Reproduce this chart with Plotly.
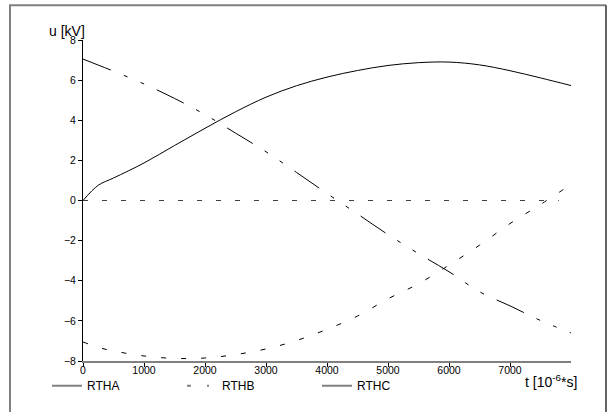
import plotly.graph_objects as go

# Time axis (in 10^-6 s) and the three phase voltages in kV
t = [0, 250, 500, 1000, 1500, 2000, 2500, 3000, 3500, 4000,
     4500, 5000, 5500, 6000, 6500, 7000, 7500, 8000]
u_rtha = [7.05, 6.75, 6.45, 5.81, 5.09, 4.28, 3.36, 2.43, 1.40, 0.35,
          -0.67, -1.70, -2.65, -3.55, -4.55, -5.25, -5.98, -6.60]
u_rthb = [-7.05, -7.32, -7.50, -7.75, -7.87, -7.85, -7.68, -7.40, -6.98, -6.42,
          -5.76, -4.90, -4.15, -3.22, -2.23, -1.15, -0.20, 0.80]
u_rthc = [0.0, 0.76, 1.12, 1.87, 2.74, 3.60, 4.42, 5.15, 5.72, 6.15,
          6.48, 6.73, 6.87, 6.90, 6.76, 6.47, 6.11, 5.73]

# Reference (zero) level line
t_zero = [0, 7800]
u_zero = [0.0, 0.0]

legend_names = ["RTHA", "RTHB", "RTHC"]
x_ticks = [0, 1000, 2000, 3000, 4000, 5000, 6000, 7000]
y_ticks = [-8, -6, -4, -2, 0, 2, 4, 6, 8]

FONT = "Arial, Liberation Sans, sans-serif"

fig = go.Figure()

fig.add_trace(go.Scatter(x=t, y=u_rtha, mode="lines", showlegend=False,
                         line=dict(color="black", width=1, shape="spline", smoothing=1.0,
                                   dash="30px,14px,4px,14px,4px,14px")))
fig.add_trace(go.Scatter(x=t, y=u_rthb, mode="lines", showlegend=False,
                         line=dict(color="black", width=1, shape="spline", smoothing=1.0,
                                   dash="5px,15px")))
fig.add_trace(go.Scatter(x=t, y=u_rthc, mode="lines", showlegend=False,
                         line=dict(color="black", width=1, shape="spline", smoothing=1.0)))
fig.add_trace(go.Scatter(x=t_zero, y=u_zero, mode="lines", showlegend=False,
                         line=dict(color="#404040", width=1, dash="5px,14px")))

# Legend entries (grey samples)
legend_dash = ["solid", "4px,16px,2px,10px", "solid"]
for name, dash in zip(legend_names, legend_dash):
    fig.add_trace(go.Scatter(x=[None], y=[None], mode="lines", name=name,
                             line=dict(color="#808080", width=2, dash=dash)))

L, R, T, B = 83, 38, 40, 48
W, H = 609, 412
pw, ph = W - L - R, H - T - B


def px_x(v):
    return (v - L) / pw


def px_y(v):
    return (H - B - v) / ph


shapes = [
    dict(type="line", xref="paper", yref="paper", x0=px_x(10), x1=px_x(10),
         y0=px_y(5), y1=px_y(430), line=dict(color="#808080", width=2)),
    dict(type="line", xref="paper", yref="paper", x0=px_x(9), x1=px_x(606),
         y0=px_y(5), y1=px_y(5), line=dict(color="#808080", width=2)),
    dict(type="line", xref="paper", yref="paper", x0=px_x(606), x1=px_x(606),
         y0=px_y(5), y1=px_y(430), line=dict(color="#303030", width=1.5)),
]

annotations = [
    dict(text="u [kV]", xref="paper", yref="paper", x=px_x(47), y=px_y(31),
         xanchor="left", yanchor="middle", showarrow=False,
         font=dict(family=FONT, size=14, color="black")),
    dict(text="t [10<sup>-6</sup>*s]", xref="paper", yref="paper", x=px_x(523), y=px_y(384),
         xanchor="left", yanchor="middle", showarrow=False,
         font=dict(family=FONT, size=14, color="black")),
]

fig.update_layout(
    width=W, height=H,
    margin=dict(l=L, r=R, t=T, b=B, pad=0),
    paper_bgcolor="white", plot_bgcolor="white",
    font=dict(family=FONT, color="black"),
    shapes=shapes,
    annotations=annotations,
    legend=dict(orientation="h", x=px_x(47), y=px_y(389), xanchor="left", yanchor="middle",
                font=dict(family=FONT, size=12, color="black"),
                entrywidth=90, entrywidthmode="pixels", itemwidth=30,
                bgcolor="rgba(0,0,0,0)", borderwidth=0),
    xaxis=dict(range=[0, 8000], tickvals=x_ticks, ticks="outside", ticklen=4,
               tickcolor="black", showline=True, linecolor="#808080", linewidth=2,
               showgrid=False, zeroline=False, ticklabelstandoff=-6,
               tickfont=dict(family=FONT, size=10.5, color="black")),
    yaxis=dict(range=[-8, 8], tickvals=y_ticks, ticks="outside", ticklen=4,
               tickcolor="black", showline=True, linecolor="black", linewidth=1,
               showgrid=False, zeroline=False,
               tickfont=dict(family=FONT, size=10.5, color="black")),
)

fig.write_html("out.html")
